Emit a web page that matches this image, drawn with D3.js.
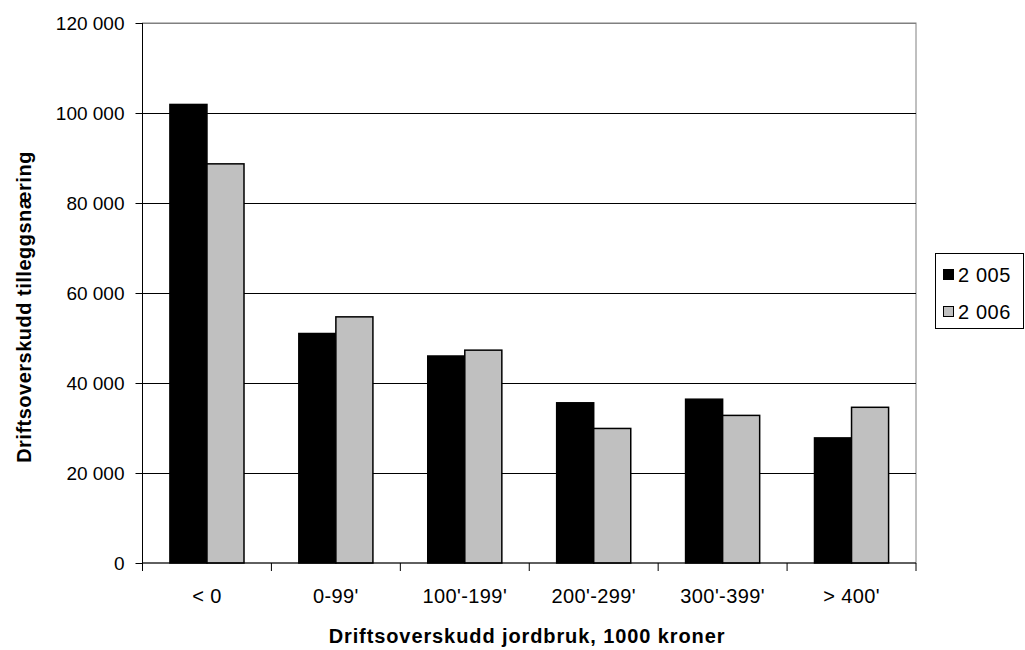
<!DOCTYPE html>
<html><head><meta charset="utf-8">
<script src="https://cdn.jsdelivr.net/npm/d3@7"></script>
<style>body{margin:0;background:#fff}svg{display:block;font-family:"Liberation Sans",Arial,sans-serif}</style>
</head><body><svg id="c" width="1025" height="650"></svg>
<script>
const categories = ["< 0", "0-99'", "100'-199'", "200'-299'", "300'-399'", "> 400'"];
const seriesNames = ["2 005", "2 006"];
const values2005 = [101900, 51000, 46000, 35600, 36400, 27800];
const values2006 = [88700, 54700, 47300, 29900, 32800, 34600];
const yTicks = [0, 20000, 40000, 60000, 80000, 100000, 120000];
const colors = ["#000000", "#c0c0c0"];

const svg = d3.select("#c");
const L = 142.5, R = 916, T = 23, B = 563;
const FS = 20;
const x = d3.scaleBand().domain(categories).range([L, R]);
const xi = d3.scaleBand().domain(seriesNames).range([0, x.bandwidth()]).paddingInner(0).paddingOuter(0.74);
const y = d3.scaleLinear().domain([0, 120000]).range([B, T]);
const fmt = v => d3.format(",")(v).replace(/,/g, " ");

// plot border
svg.append("rect").attr("x", L).attr("y", T).attr("width", R - L).attr("height", B - T)
  .attr("fill", "#fff").attr("stroke", "#808080").attr("stroke-width", 1);
// gridlines
svg.append("g").selectAll("line").data(yTicks.filter(d => d > 0)).join("line")
  .attr("x1", L).attr("x2", R).attr("y1", d => Math.round(y(d)) + 0.5).attr("y2", d => Math.round(y(d)) + 0.5)
  .attr("stroke", d => d === 120000 ? "#808080" : "#000").attr("stroke-width", 1);

// bars
const data = categories.map((c, i) => ({c, v: [values2005[i], values2006[i]]}));
const g = svg.append("g").selectAll("g").data(data).join("g").attr("transform", d => `translate(${x(d.c)},0)`);
g.selectAll("rect").data(d => d.v.map((v, j) => ({s: seriesNames[j], v, j}))).join("rect")
  .attr("x", d => xi(d.s)).attr("width", xi.bandwidth())
  .attr("y", d => y(d.v)).attr("height", d => B - y(d.v))
  .attr("fill", d => colors[d.j]).attr("stroke", "#000").attr("stroke-width", 1.5);

// y axis
const ya = d3.axisLeft(y).tickValues(yTicks).tickFormat(fmt).tickSize(7).tickPadding(11);
const yg = svg.append("g").attr("transform", `translate(${L},0)`).call(ya);
yg.select(".domain").attr("stroke", "#000").attr("d", `M0,${T}V${B}`);
yg.selectAll("text").attr("font-size", 19).attr("fill", "#000").attr("font-family", "Liberation Sans, Arial, sans-serif");
yg.selectAll(".tick line").attr("stroke", "#000");

// x axis
const xa = d3.axisBottom(x).tickSize(0).tickPadding(26);
const xg = svg.append("g").attr("transform", `translate(0,${B})`).call(xa);
xg.select(".domain").attr("stroke", "#000").attr("d", `M${L},0H${R}`);
xg.selectAll("text").attr("font-size", FS).attr("fill", "#000").attr("letter-spacing", 0.4)
  .attr("font-family", "Liberation Sans, Arial, sans-serif");
xg.selectAll(".bt").data(categories.concat(["end"])).join("line").attr("class", "bt")
  .attr("x1", (d, i) => i < categories.length ? x(d) : R).attr("x2", (d, i) => i < categories.length ? x(d) : R)
  .attr("y1", 0).attr("y2", 8).attr("stroke", "#000");

// axis titles
svg.append("text").attr("x", 527).attr("y", 643).attr("text-anchor", "middle").attr("letter-spacing", 0.9)
  .attr("font-size", FS).attr("font-weight", "bold").text("Driftsoverskudd jordbruk, 1000 kroner");
svg.append("text").attr("transform", `translate(31,307) rotate(-90)`).attr("text-anchor", "middle")
  .attr("letter-spacing", 0.5)
  .attr("font-size", FS).attr("font-weight", "bold").text("Driftsoverskudd tilleggsnæring");

// legend
const lg = svg.append("g");
lg.append("rect").attr("x", 935.5).attr("y", 253.5).attr("width", 88).attr("height", 75)
  .attr("fill", "#fff").attr("stroke", "#000");
seriesNames.forEach((s, i) => {
  const yy = 275 + i * 37;
  lg.append("rect").attr("x", 943.5).attr("y", yy - 5.5).attr("width", 10).attr("height", 10)
    .attr("fill", colors[i]).attr("stroke", "#000");
  lg.append("text").attr("x", 958).attr("y", yy + 7).attr("font-size", FS).attr("letter-spacing", 0.6).text(s);
});
</script></body></html>
